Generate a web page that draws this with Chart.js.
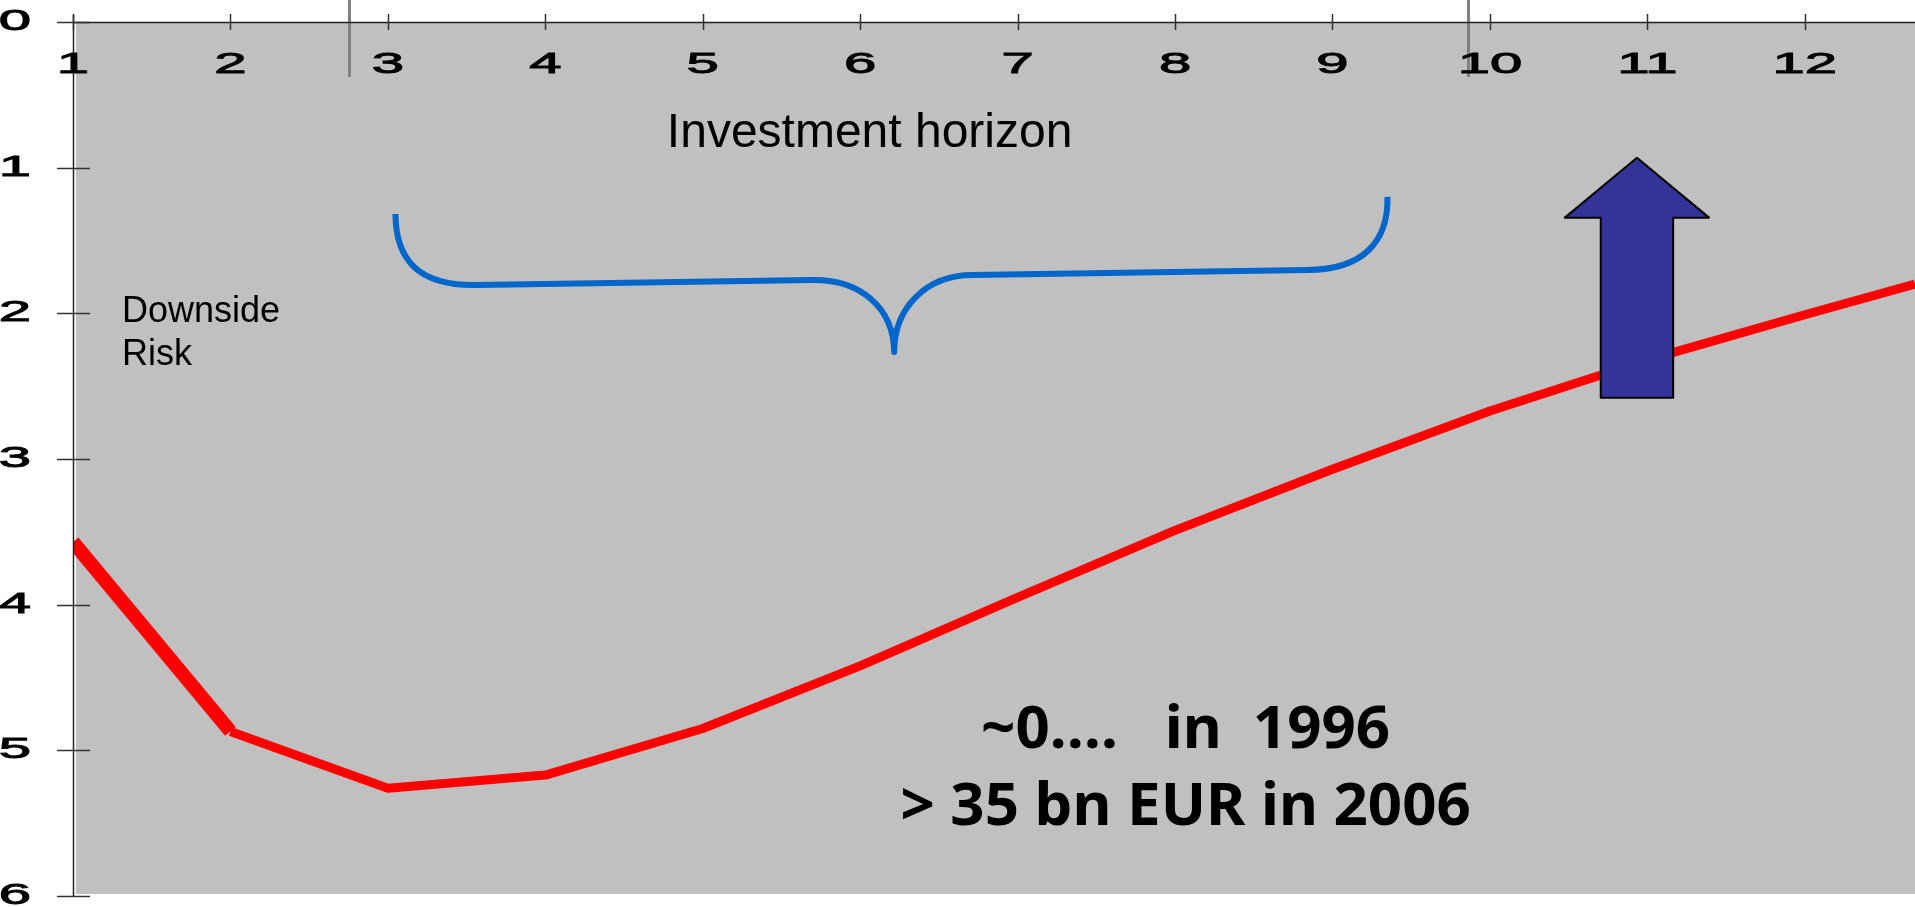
<!DOCTYPE html>
<html>
<head>
<meta charset="utf-8">
<script src="https://cdn.jsdelivr.net/npm/chart.js@4.4.1/dist/chart.umd.min.js"></script>
<style>
  html, body { margin: 0; padding: 0; background: #fff; overflow: hidden; }
  #wrap { width: 1915px; height: 907px; position: relative; }
</style>
</head>
<body>
<div id="wrap"><canvas id="chart"></canvas></div>
<script>
// data
const horizon = [1, 2, 3, 4, 5, 6, 7, 8, 9, 10, 11, 12, 12.7];
const downsideRisk = [3.57, 4.87, 5.26, 5.17, 4.85, 4.42, 3.95, 3.49, 3.07, 2.67, 2.32, 2.01, 1.80];
const xTicks = [1, 2, 3, 4, 5, 6, 7, 8, 9, 10, 11, 12];
const yTicks = [0, 1, 2, 3, 4, 5, 6];

const horizonLabel = "Investment horizon";
const riskLabel = ["Downside", "Risk"];
const growthLabel = ["~0\u2026.   in  1996", "> 35 bn EUR in 2006"];

// decorations, in data units
const greyMarks = [2.752, 9.863];
const brace = [
  ["M", 3.048, 1.318],
  ["C", 3.050, 1.640, 3.200, 1.812, 3.565, 1.805],
  ["L", 5.692, 1.771],
  ["C", 6.000, 1.764, 6.213, 1.960, 6.216, 2.265],
  ["C", 6.216, 1.960, 6.420, 1.737, 6.714, 1.737],
  ["L", 8.841, 1.702],
  ["C", 9.200, 1.702, 9.356, 1.500, 9.349, 1.201]
];
const arrow = { x: 10.934, tip: 0.932, head: 1.343, bottom: 2.579, headHalf: 0.458, shaftHalf: 0.23 };

function wideText(ctx, text, x, y, sx, align) {
  ctx.save();
  ctx.translate(x, y);
  ctx.scale(sx, 1);
  ctx.textAlign = align;
  ctx.fillText(text, 0, 0);
  ctx.strokeText(text, 0, 0);
  ctx.restore();
}

const deco = {
  id: "deco",
  beforeDraw(chart) {
    const c = chart.ctx, a = chart.chartArea;
    c.save();
    c.fillStyle = "#ffffff";
    c.fillRect(0, 0, chart.width, chart.height);
    c.fillStyle = "#c0c0c0";
    c.fillRect(a.left + 3, a.top + 1, a.right - a.left - 3, a.bottom - a.top - 3);
    c.restore();
  },
  afterDatasetsDraw(chart) {
    const c = chart.ctx, xs = chart.scales.x, ys = chart.scales.y;
    const X = v => xs.getPixelForValue(v), Y = v => ys.getPixelForValue(v);
    c.save();

    // brace
    c.beginPath();
    brace.forEach(s => {
      if (s[0] === "M") c.moveTo(X(s[1]), Y(s[2]));
      else if (s[0] === "L") c.lineTo(X(s[1]), Y(s[2]));
      else c.bezierCurveTo(X(s[1]), Y(s[2]), X(s[3]), Y(s[4]), X(s[5]), Y(s[6]));
    });
    c.strokeStyle = "#0066cc";
    c.lineWidth = 6;
    c.lineJoin = "round";
    c.stroke();

    // arrow
    c.beginPath();
    c.moveTo(X(arrow.x), Y(arrow.tip));
    c.lineTo(X(arrow.x + arrow.headHalf), Y(arrow.head));
    c.lineTo(X(arrow.x + arrow.shaftHalf), Y(arrow.head));
    c.lineTo(X(arrow.x + arrow.shaftHalf), Y(arrow.bottom));
    c.lineTo(X(arrow.x - arrow.shaftHalf), Y(arrow.bottom));
    c.lineTo(X(arrow.x - arrow.shaftHalf), Y(arrow.head));
    c.lineTo(X(arrow.x - arrow.headHalf), Y(arrow.head));
    c.closePath();
    c.fillStyle = "#333399";
    c.fill();
    c.strokeStyle = "#000";
    c.lineWidth = 2;
    c.stroke();

    // texts
    c.fillStyle = "#000";
    c.textBaseline = "alphabetic";
    c.font = "48px 'Liberation Sans', Arial, sans-serif";
    c.textAlign = "center";
    c.fillText(horizonLabel, X(6.06), Y(0.858));

    c.font = "36px 'Liberation Sans', Arial, sans-serif";
    c.textAlign = "left";
    c.fillText(riskLabel[0], X(1.311), Y(2.06));
    c.fillText(riskLabel[1], X(1.311), Y(2.355));

    c.font = "bold 60px 'Noto Sans', 'Open Sans', sans-serif";
    c.textAlign = "center";
    c.fillText(growthLabel[0], X(8.067), Y(4.984));
    c.fillText(growthLabel[1], X(8.067), Y(5.512));
    c.restore();
  },
  afterDraw(chart) {
    const c = chart.ctx, a = chart.chartArea, xs = chart.scales.x, ys = chart.scales.y;
    c.save();

    // grey marks at the top
    c.strokeStyle = "#808080";
    c.lineWidth = 3;
    greyMarks.forEach(v => {
      const x = Math.round(xs.getPixelForValue(v)) + 0.5;
      c.beginPath();
      c.moveTo(x, 0);
      c.lineTo(x, 77);
      c.stroke();
    });

    // axis lines
    c.strokeStyle = "#222";
    c.lineWidth = 1.5;
    c.beginPath();
    c.moveTo(a.left + 0.5, a.top - 7);
    c.lineTo(a.left + 0.5, a.bottom);
    c.moveTo(a.left, a.top + 0.5);
    c.lineTo(a.right, a.top + 0.5);
    c.stroke();

    // ticks
    c.strokeStyle = "#333";
    c.beginPath();
    xTicks.forEach(v => {
      const x = Math.round(xs.getPixelForValue(v)) + 0.5;
      c.moveTo(x, a.top - 8);
      c.lineTo(x, a.top + 8);
    });
    yTicks.forEach(v => {
      const y = Math.round(ys.getPixelForValue(v)) + 0.5;
      c.moveTo(a.left - 16, y);
      c.lineTo(a.left + 17, y);
    });
    c.stroke();

    // stretched tick labels
    c.fillStyle = "#000";
    c.strokeStyle = "#000";
    c.lineWidth = 0.9;
    c.font = "29px 'Liberation Sans', Arial, sans-serif";
    c.textBaseline = "alphabetic";
    xTicks.forEach(v => {
      wideText(c, String(v), xs.getPixelForValue(v), a.top + 51, 2.0, "center");
    });
    yTicks.forEach(v => {
      wideText(c, String(v), 31, ys.getPixelForValue(v) + 8, 2.0, "right");
    });
    c.restore();
  }
};

const ctx = document.getElementById("chart");

const myChart = new Chart(ctx, {
  type: "line",
  data: {
    datasets: [
      {
        label: "Downside Risk",
        data: horizon.map((h, i) => ({ x: h, y: downsideRisk[i] })),
        borderColor: "#ff0000",
        borderWidth: 9,
        segment: {
          borderWidth: s => (s.p0DataIndex === 0 ? 14 : 9),
        },
        borderJoinStyle: "round",
        borderCapStyle: "butt",
        pointRadius: 0,
        tension: 0,
        fill: false,
        clip: { left: 0, top: 0, right: 0, bottom: 0 },
      },
    ],
  },
  options: {
    responsive: true,
    maintainAspectRatio: false,
    animation: false,
    layout: { padding: { left: 0, right: 0, top: 0, bottom: 11 } },
    plugins: { legend: { display: false }, tooltip: { enabled: false } },
    scales: {
      x: {
        type: "linear",
        position: "top",
        min: 1,
        max: 12.7,
        ticks: { display: false, includeBounds: false },
        grid: { display: false },
        border: { display: false },
        afterBuildTicks: s => { s.ticks = xTicks.map(v => ({ value: v })); },
        afterFit: s => { s.height = 22; },
      },
      y: {
        type: "linear",
        reverse: true,
        min: 0,
        max: 6,
        ticks: { display: false },
        grid: { display: false },
        border: { display: false },
        afterBuildTicks: s => { s.ticks = yTicks.map(v => ({ value: v })); },
        afterFit: s => { s.width = 73; },
      },
    },
  },
  plugins: [deco],
});
</script>
</body>
</html>
